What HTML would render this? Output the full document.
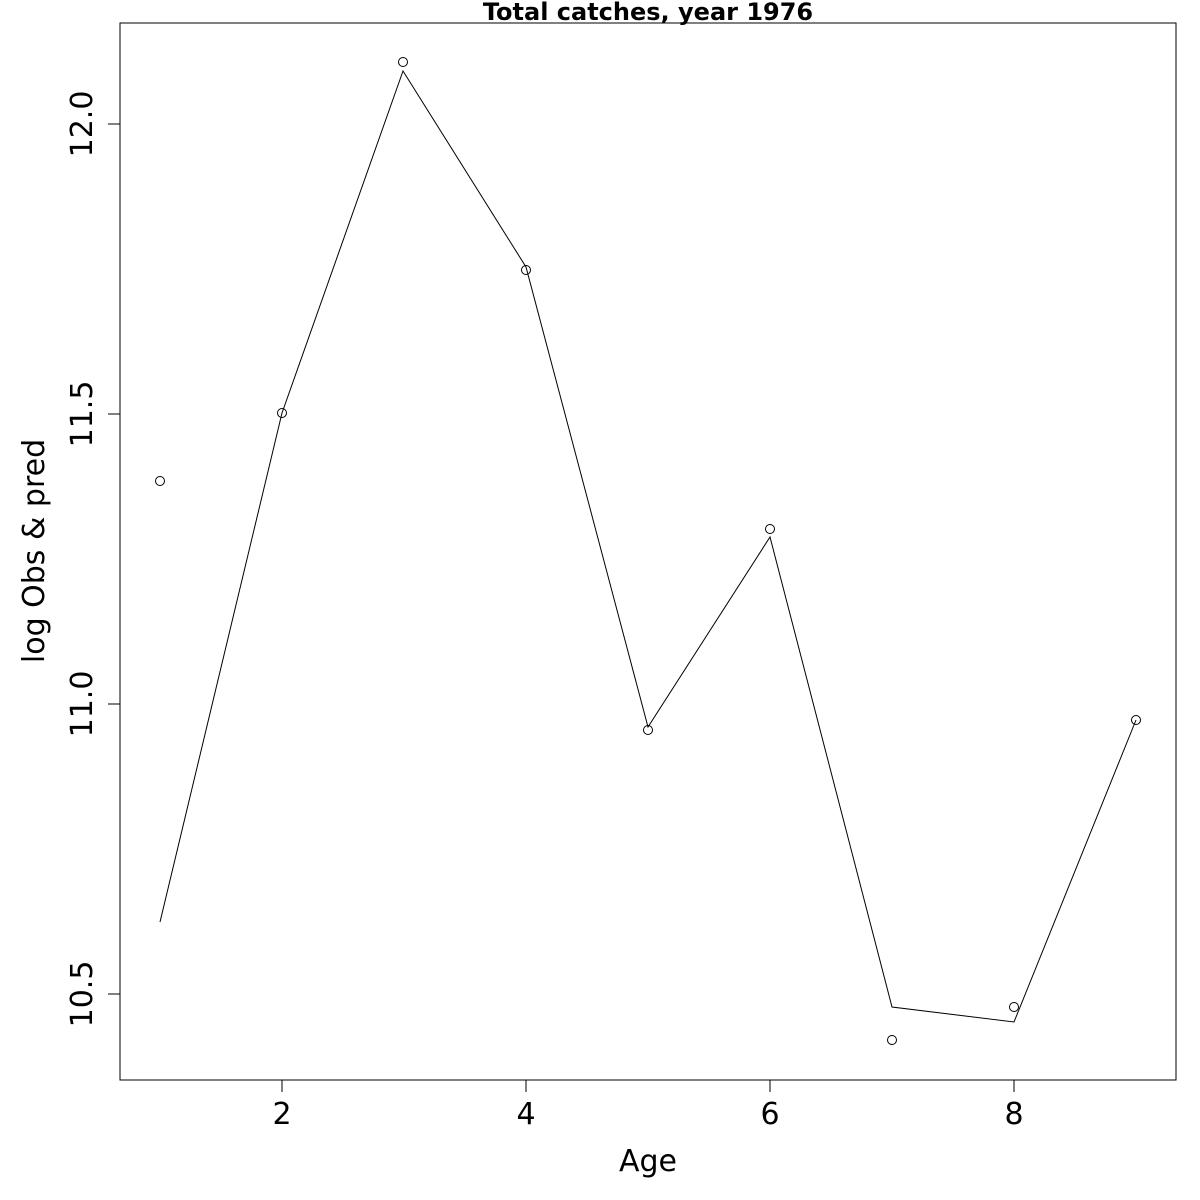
<!DOCTYPE html>
<html><head><meta charset="utf-8"><style>
body{margin:0;background:#fff}
svg{display:block}
text{font-family:"DejaVu Sans","Liberation Sans",sans-serif;fill:#000}
</style></head><body>
<svg width="1200" height="1200" viewBox="0 0 1200 1200" xmlns="http://www.w3.org/2000/svg">
<rect x="120" y="23" width="1056" height="1057" fill="none" stroke="#000" stroke-width="1"/>
<g stroke="#000" stroke-width="1">
<line x1="282" y1="1080" x2="1014" y2="1080"/>
<line x1="282" y1="1080" x2="282" y2="1092"/>
<line x1="526" y1="1080" x2="526" y2="1092"/>
<line x1="770" y1="1080" x2="770" y2="1092"/>
<line x1="1014" y1="1080" x2="1014" y2="1092"/>
<line x1="120" y1="124" x2="120" y2="994"/>
<line x1="108" y1="124" x2="120" y2="124"/>
<line x1="108" y1="414" x2="120" y2="414"/>
<line x1="108" y1="704" x2="120" y2="704"/>
<line x1="108" y1="994" x2="120" y2="994"/>
</g>
<g font-size="30" text-anchor="middle">
<text x="282" y="1124">2</text>
<text x="526" y="1124">4</text>
<text x="770" y="1124">6</text>
<text x="1014" y="1124">8</text>
<text transform="translate(92,124) rotate(-90)">12.0</text>
<text transform="translate(92,414) rotate(-90)">11.5</text>
<text transform="translate(92,704) rotate(-90)">11.0</text>
<text transform="translate(92,994) rotate(-90)">10.5</text>
<text x="648" y="1171">Age</text>
<text transform="translate(44,551) rotate(-90)">log Obs &amp; pred</text>
</g>
<text x="648" y="20" font-size="24" font-weight="bold" text-anchor="middle">Total catches, year 1976</text>
<polyline fill="none" stroke="#000" stroke-width="1" points="160,922 282,413 403,71 526,267 648,727 770,537 892,1007 1014,1022 1136,720"/>
<g fill="none" stroke="#000" stroke-width="1">
<circle cx="160" cy="481" r="4.5"/>
<circle cx="282" cy="413" r="4.5"/>
<circle cx="403" cy="62" r="4.5"/>
<circle cx="526" cy="270" r="4.5"/>
<circle cx="648" cy="730" r="4.5"/>
<circle cx="770" cy="529" r="4.5"/>
<circle cx="892" cy="1040" r="4.5"/>
<circle cx="1014" cy="1007" r="4.5"/>
<circle cx="1136" cy="720" r="4.5"/>
</g>
</svg>
</body></html>
